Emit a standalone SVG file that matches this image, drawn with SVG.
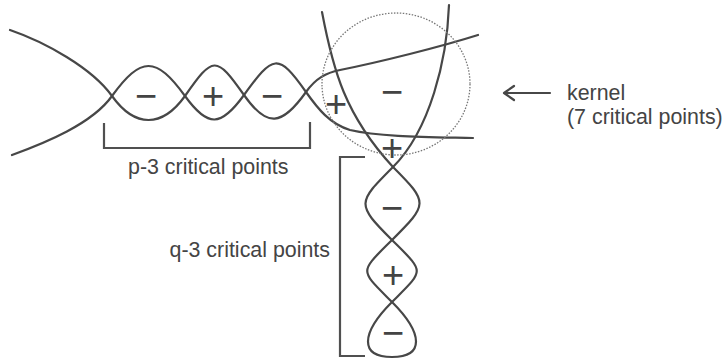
<svg xmlns="http://www.w3.org/2000/svg" width="728" height="360" viewBox="0 0 728 360">
<style>
.s{fill:none;stroke:#474747;stroke-width:2.2;stroke-linecap:round;stroke-linejoin:round}
.b{fill:none;stroke:#505050;stroke-width:2.2;stroke-linecap:butt}
.t{font-family:"Liberation Sans",Arial,sans-serif;font-size:21.4px;fill:#444}
.g{font-family:"Liberation Sans",Arial,sans-serif;font-size:38px;fill:#444;text-anchor:middle}
</style>
<rect width="728" height="360" fill="#fff"/>
<g id="strands">
<path class="s" d="M10,30 C45,42 92,68 112,96 C135,128 162,128 185,96 C213,56 216,55 244,95 C267,128 282,126 306,92 C316,78 326,73 340,70 C380,62 440,47 478,35"/>
<path class="s" d="M12,155 C45,143 92,124 112,96 C141,56 156,56 185,96 C208,128 221,127 244,95 C273,55 278,52 306,92 C318,109 330,124 350,130 C380,137 430,137 473,138"/>
<path class="s" d="M322,12 C333,70 345,115 393,167 C429,203 428,204 392,240 C359,273 359,269 392,302 C424,334 424,357 392,357"/>
<path class="s" d="M449,5 C447,60 430,130 393,167 C357,203 356,204 392,240 C425,273 425,269 392,302 C360,334 360,357 392,357"/>
</g>
<ellipse id="kernel-circle" cx="396" cy="84" rx="74" ry="71" fill="none" stroke="#777" stroke-width="1.3" stroke-dasharray="1.5 1.5"/>
<g id="signs">
<text class="g" x="146" y="109">−</text>
<text class="g" x="213" y="109">+</text>
<text class="g" x="272" y="109">−</text>
<text class="g" x="336" y="117">+</text>
<text class="g" x="392" y="105">−</text>
<text class="g" x="392" y="161">+</text>
<text class="g" x="392" y="221">−</text>
<text class="g" x="393" y="288">+</text>
<text class="g" x="393" y="346">−</text>
</g>
<g id="p-bracket">
<path class="b" d="M104,123 V148 H310 V122"/>
<text class="t" x="128" y="174">p-3 critical points</text>
</g>
<g id="q-bracket">
<path class="b" d="M365,157 H340 V356 H365"/>
<text class="t" x="330" y="257" text-anchor="end">q-3 critical points</text>
</g>
<g id="kernel-label">
<path class="s" d="M505,93 H550 M514,86 L504,93 L514,100"/>
<text class="t" x="567" y="100">kernel</text>
<text class="t" x="567" y="124">(7 critical points)</text>
</g>
</svg>
